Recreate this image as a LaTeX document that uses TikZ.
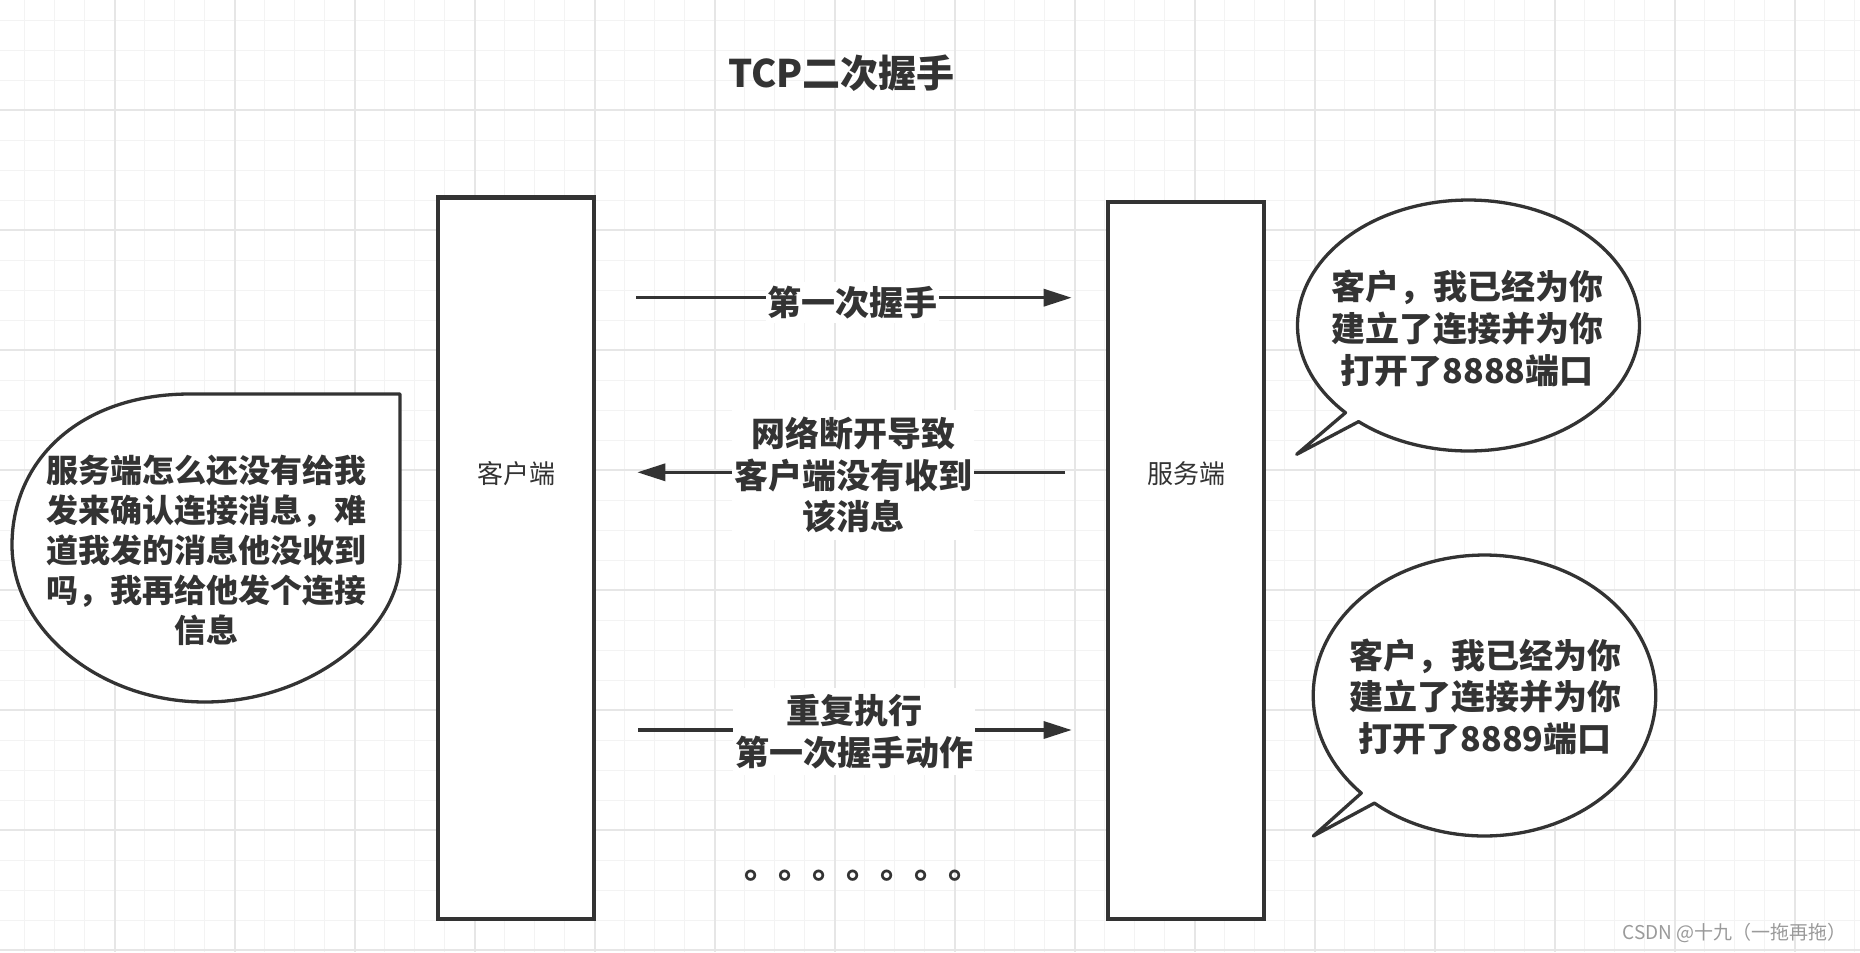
\documentclass[tikz,border=0pt]{standalone}
\usepackage{fontspec}
\setmainfont{Noto Sans CJK SC}
\usetikzlibrary{arrows.meta}
\definecolor{ink}{HTML}{333333}
\definecolor{gridminor}{HTML}{F3F3F3}
\definecolor{gridmajor}{HTML}{E6E6E6}
\definecolor{wmark}{HTML}{9A9A9A}
\tikzset{
  rectbox/.style={draw=ink, line width=4.3bp, fill=white, inner sep=0pt},
  boxtext/.style={text=ink, inner sep=0pt, font=\fontsize{26bp}{31bp}\selectfont},
  lbl/.style={text=ink, fill=white, inner sep=0pt, align=center, font=\fontsize{34bp}{41.7bp}\selectfont\bfseries},
  bubble/.style={draw=ink, line width=3.3bp, fill=white, line join=round},
  bubtext/.style={text=ink, inner sep=0pt, align=center, font=\fontsize{34bp}{41.7bp}\selectfont\bfseries},
  arr/.style={draw=ink, line width=3.3bp, -{Triangle[length=28bp,width=17bp]}},
}
\begin{document}
\begin{tikzpicture}[x=1bp,y=-1bp]
\useasboundingbox (0,0) rectangle (1860,952);
\fill[white] (0,0) rectangle (1860,952);
% grid
\foreach \i in {0,...,61} \draw[gridminor, line width=1.5bp] ({24.7+30*\i},0) -- ({24.7+30*\i},952);
\foreach \i in {0,...,31} \draw[gridminor, line width=1.5bp] (0,{20.3+30*\i}) -- (1860,{20.3+30*\i});
\foreach \i in {0,...,14} \draw[gridmajor, line width=2bp] ({114.7+120*\i},0) -- ({114.7+120*\i},952);
\foreach \i in {0,...,7} \draw[gridmajor, line width=2bp] (0,{110.3+120*\i}) -- (1860,{110.3+120*\i});

% title
\node[text=ink, inner sep=0pt, font=\fontsize{38bp}{44bp}\selectfont\bfseries] (title) at (841.5,73.3) {TCP二次握手};

% client and server boxes
\node[rectbox, minimum width=155.7bp, minimum height=721.5bp] (client) at (516.15,558.25) {};
\node[boxtext] (clientlbl) at (516,473.3) {客户端};
\node[rectbox, minimum width=155.7bp, minimum height=717bp] (server) at (1186.15,560.5) {};
\node[boxtext] (serverlbl) at (1186,473.3) {服务端};

% arrows
\coordinate (a1s) at (636,297.7);
\coordinate (a1e) at (1071.7,297.7);
\coordinate (a2s) at (1065,472.3);
\coordinate (a2e) at (637.3,472.3);
\coordinate (a3s) at (638.3,730);
\coordinate (a3e) at (1071.7,730);
\draw[arr] (a1s) -- (a1e);
\draw[arr] (a2s) -- (a2e);
\draw[arr] (a3s) -- (a3e);
\node[lbl, minimum width=173bp, minimum height=41bp] (l1) at (852.5,302.3) {第一次握手};
\node[lbl, minimum width=242bp, minimum height=130bp] (l2) at (853,475) {网络断开导致\\客户端没有收到\\该消息};
\node[lbl, minimum width=242bp, minimum height=87bp] (l3) at (854,731.5) {重复执行\\第一次握手动作};

% dots
\node[text=ink, inner sep=0pt, font=\fontsize{34bp}{40bp}\selectfont\bfseries] (dots) at (863,876) {。。。。。。。};

% left bubble
\draw[bubble] (400,394) -- (190,394) .. controls (80,394) and (12,460) .. (12,545)
  .. controls (12,630) and (100,702) .. (205,702)
  .. controls (310,702) and (400,630) .. (400,560) -- cycle;
\node[bubtext, font=\fontsize{32bp}{40bp}\selectfont\bfseries] (lefttext) at (206.7,550) {服务端怎么还没有给我\\发来确认连接消息，难\\道我发的消息他没收到\\吗，我再给他发个连接\\信息};

% right bubble 1
\draw[bubble] (1296.7,454.3) -- plot[domain=130:-224, samples=150] ({1468.5+171*cos(\x)},{325.5+125.5*sin(\x)}) -- cycle;
\node[bubtext] (rt1) at (1467,328.5) {客户，我已经为你\\建立了连接并为你\\打开了8888端口};

% right bubble 2
\draw[bubble] (1313.3,836) -- plot[domain=130:-224, samples=150] ({1484.5+171.3*cos(\x)},{695.5+140.5*sin(\x)}) -- cycle;
\node[bubtext] (rt2) at (1485,696.7) {客户，我已经为你\\建立了连接并为你\\打开了8889端口};

% watermark
\node[text=wmark, inner sep=0pt, anchor=east, font=\fontsize{19bp}{23bp}\selectfont] (wm) at (1847,933.3) {CSDN @十九（一拖再拖）};
\end{tikzpicture}
\end{document}
